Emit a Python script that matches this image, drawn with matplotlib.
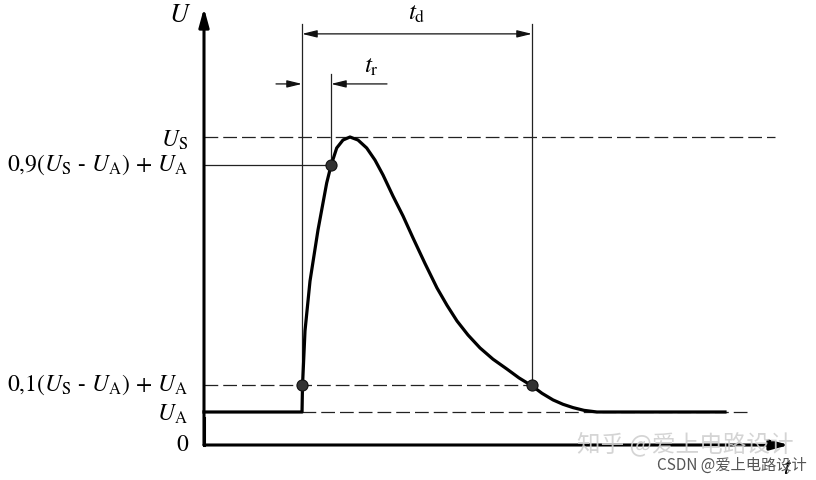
import matplotlib
matplotlib.use("Agg")
import matplotlib.pyplot as plt

plt.rcParams['mathtext.fontset'] = 'stix'
plt.rcParams['font.family'] = ['STIXGeneral', 'DejaVu Serif']

# ---- data (time in arbitrary units, voltage in arbitrary units) ----
U_A = 1.2
U_S = 11.2
U_10 = U_A + 0.1 * (U_S - U_A)
U_90 = U_A + 0.9 * (U_S - U_A)

t_start = 9.8      # pulse start (10 % crossing on rise)
t_90 = 12.7        # 90 % crossing on rise
t_d_end = 32.8     # 10 % crossing on fall

pulse_t = [0, 9.8, 9.85, 10.1, 10.6, 11.4, 12.27, 12.7, 13.27, 13.9, 14.6,
           15.4, 16.27, 17.1, 17.9, 18.9, 19.9, 20.9, 22.1, 23.3, 24.3, 25.3,
           26.4, 27.6, 28.9, 30.3, 31.5, 32.8, 33.8, 34.9, 35.9, 36.9, 38.0,
           39.3, 52.1]
pulse_u = [1.2, 1.2, 2.15, 4.15, 5.96, 7.82, 9.53, 10.16, 10.80, 11.09, 11.2,
           11.09, 10.80, 10.36, 9.82, 9.05, 8.33, 7.53, 6.60, 5.71, 5.08, 4.51,
           4.00, 3.53, 3.12, 2.76, 2.44, 2.15, 1.88, 1.64, 1.48, 1.36, 1.26,
           1.2, 1.2]

marker_t = [t_start, t_90, t_d_end]
marker_u = [U_10, U_90, U_10]

level_labels = [r'$U_\mathrm{S}$', r'0,9($U_\mathrm{S}$ - $U_\mathrm{A}$) + $U_\mathrm{A}$',
                r'0,1($U_\mathrm{S}$ - $U_\mathrm{A}$) + $U_\mathrm{A}$', r'$U_\mathrm{A}$', '0']
level_values = [U_S, U_90, U_10, U_A, 0]
level_offsets = [-0.12, 0.0, 0.0, -0.1, 0.0]

fig = plt.figure(figsize=(8.16, 4.8), dpi=100)
ax = fig.add_axes([0, 0, 1, 1])
ax.set_xlim(-20.4, 61.2)
ax.set_ylim(-35 / 27.5, 445 / 27.5)
ax.axis('off')

thin = dict(color='#222222', lw=0.9)
dash = dict(color='#222222', lw=0.9, linestyle=(0, (11, 4)))

# dashed reference levels
ax.plot([0, 57.1], [U_S, U_S], **dash)
ax.plot([0, t_d_end], [U_10, U_10], **dash)
ax.plot([t_start, 54.6], [U_A, U_A], **dash)

# thin solid helper lines
ax.plot([0, t_90], [U_90, U_90], **thin)
ax.plot([t_start, t_start], [U_A, 15.31], **thin)
ax.plot([t_d_end, t_d_end], [U_10, 15.31], **thin)
ax.plot([t_90, t_90], [U_90, 13.49], **thin)

# t_d dimension arrow
ax.annotate('', xy=(t_start, 14.95), xytext=(t_d_end, 14.95),
            arrowprops=dict(arrowstyle='<|-|>,head_length=0.9,head_width=0.22',
                            color='#111111', lw=0.9, shrinkA=0, shrinkB=0))
ax.text(21.3, 15.7, r'$t_\mathrm{d}$', ha='center', va='center', fontsize=18)

# t_r dimension arrows
ax.annotate('', xy=(t_start, 13.13), xytext=(7.2, 13.13),
            arrowprops=dict(arrowstyle='-|>,head_length=0.9,head_width=0.22',
                            color='#111111', lw=0.9, shrinkA=0, shrinkB=0))
ax.annotate('', xy=(t_90, 13.13), xytext=(18.3, 13.13),
            arrowprops=dict(arrowstyle='-|>,head_length=0.9,head_width=0.22',
                            color='#111111', lw=0.9, shrinkA=0, shrinkB=0))
ax.text(16.7, 13.75, r'$t_\mathrm{r}$', ha='center', va='center', fontsize=18)

# axes with arrows
ax.annotate('', xy=(0, 15.89), xytext=(0, 0),
            arrowprops=dict(arrowstyle='-|>,head_length=1.1,head_width=0.3',
                            color='black', lw=2.2, shrinkA=0, shrinkB=0))
ax.annotate('', xy=(58.5, 0), xytext=(0, 0),
            arrowprops=dict(arrowstyle='-|>,head_length=1.1,head_width=0.3',
                            color='black', lw=2.2, shrinkA=0, shrinkB=0))
ax.plot([0, 0], [0, 1], color='black', lw=2.2, solid_capstyle='projecting')
ax.text(-2.4, 15.6, r'$U$', ha='center', va='center', fontsize=19)
ax.text(58.3, -0.85, r'$t$', ha='center', va='center', fontsize=17)

# pulse curve
ax.plot(pulse_t, pulse_u, color='black', lw=2.3, solid_joinstyle='round', zorder=4)
ax.plot(marker_t, marker_u, 'o', ms=8, color='#333333', mec='#111111', mew=0.8, zorder=5)

# level labels
for lab, val, off in zip(level_labels, level_values, level_offsets):
    ax.text(-1.6, val + off, lab, ha='right', va='center', fontsize=17)

# watermarks
ax.text(48.1, 0.05, '知乎 @爱上电路设计', ha='center', va='center', fontsize=17,
        family=['Noto Sans CJK SC', 'DejaVu Sans'], color='#d0d0d0', alpha=0.9, zorder=6)
ax.text(52.8, -0.75, 'CSDN @爱上电路设计', ha='center', va='center', fontsize=11,
        family=['Noto Sans CJK SC', 'DejaVu Sans'], color='#555555', zorder=6)

fig.savefig('out.png', dpi=100)
